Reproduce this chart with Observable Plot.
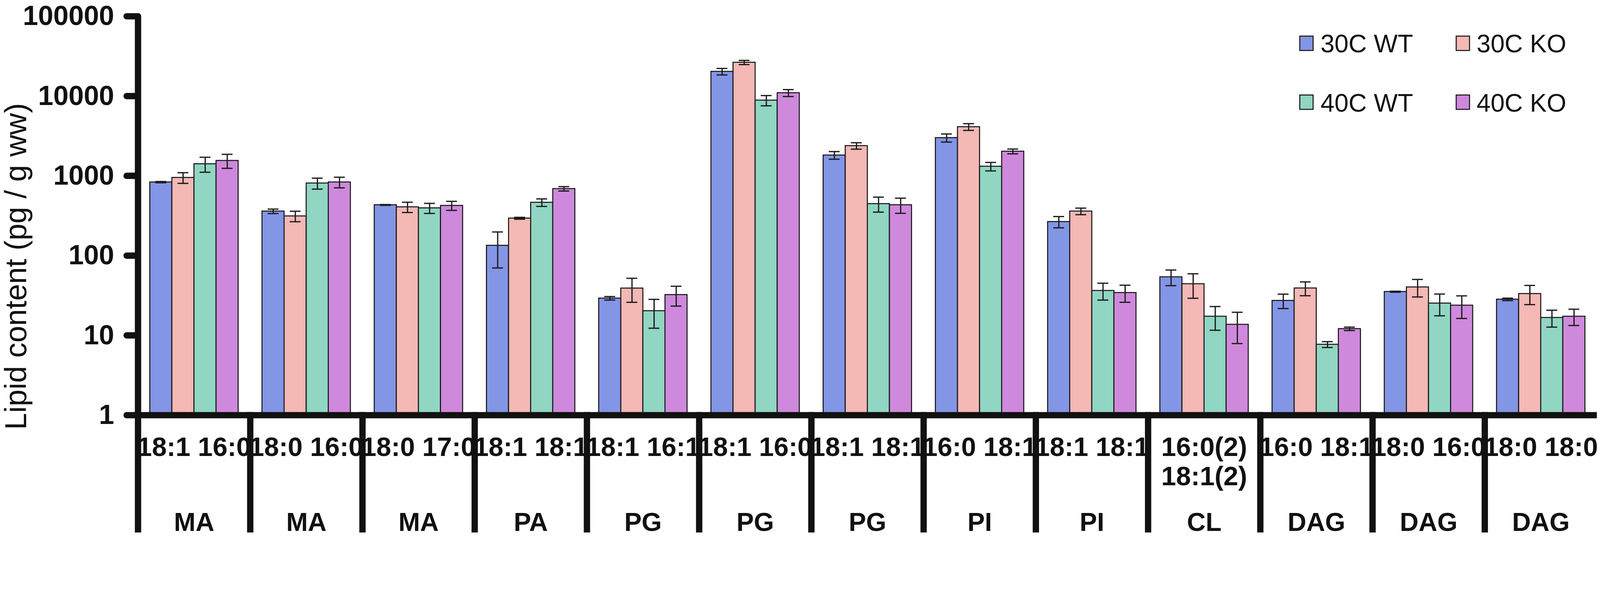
<!DOCTYPE html>
<html>
<head>
<meta charset="utf-8">
<script src="https://cdn.jsdelivr.net/npm/d3@7"></script>
<script src="https://cdn.jsdelivr.net/npm/@observablehq/plot@0.6"></script>
<style>
  html, body { margin: 0; padding: 0; background: #fff; overflow: hidden; }
  #chart svg { display: block; }
</style>
</head>
<body>
<div id="chart"></div>
<script>
// ---- data ----
const groupIds = ["g0","g1","g2","g3","g4","g5","g6","g7","g8","g9","g10","g11","g12"];
const lipidClass = ["MA","MA","MA","PA","PG","PG","PG","PI","PI","CL","DAG","DAG","DAG"];
const chains = ["18:1 16:0","18:0 16:0","18:0 17:0","18:1 18:1","18:1 16:1","18:1 16:0","18:1 18:1","16:0 18:1","18:1 18:1","16:0(2)\n18:1(2)","16:0 18:1","18:0 16:0","18:0 18:0"];
const series = ["30C WT","30C KO","40C WT","40C KO"];
const colors = ["#8395E5","#F4B8B5","#90D6C3","#CF89DC"];

const wt30 = [834, 360, 432, 134, 29.2, 20300, 1815, 3000, 266, 54, 27.3, 35.3, 28.3];
const ko30 = [950, 313, 407, 294, 39, 26400, 2380, 4110, 360, 44.2, 39.1, 40.3, 33.3];
const wt40 = [1410, 809, 395, 464, 20.3, 8850, 446, 1313, 36.4, 17.3, 7.7, 25.3, 16.7];
const ko40 = [1552, 834, 424, 689, 32.3, 10960, 432, 2027, 34.3, 13.7, 12.1, 23.8, 17.3];

const wt30Err = [15, 23, 5, 64, 1.5, 1900, 200, 350, 43, 12, 5.6, 0.5, 1];
const ko30Err = [145, 47, 60, 8, 13, 1600, 220, 400, 34, 15, 7.7, 10, 9];
const wt40Err = [300, 127, 57, 50, 8, 1300, 95, 160, 8.7, 5.7, 0.65, 7.7, 4];
const ko40Err = [310, 127, 55, 44, 9, 1100, 93, 140, 8.3, 5.8, 0.6, 7.5, 4];

const yTicks = [1, 10, 100, 1000, 10000, 100000];
const yTitle = "Lipid content (pg / g ww)";

// ---- tables built from arrays ----
const values = [wt30, ko30, wt40, ko40];
const errors = [wt30Err, ko30Err, wt40Err, ko40Err];
const data = [];
groupIds.forEach((g, i) => series.forEach((s, j) => data.push({
  group: g, series: s, value: values[j][i], err: errors[j][i]
})));
const groups = groupIds.map((g, i) => ({group: g, lipid: lipidClass[i], chains: chains[i]}));

const FONT = "'Liberation Sans', Arial, Helvetica, sans-serif";
const W = 4562, H = 1519;
const mTop = 46, mBottom = 335, mLeft = 393, mRight = 9;
const plotH = H - mTop - mBottom;
const ink = "#111";
const edge = "#1a1a1a";

const svg = Plot.plot({
  width: W, height: H,
  marginTop: mTop, marginBottom: mBottom, marginLeft: mLeft, marginRight: mRight,
  style: {fontFamily: FONT, background: "#fff", color: ink, overflow: "visible"},
  fx: {domain: groupIds, padding: 0, axis: null, label: null},
  x: {domain: series, paddingInner: 0, paddingOuter: 0.52, axis: null},
  y: {type: "log", domain: [1, 100000], axis: null},
  color: {domain: series, range: colors},
  marks: [
    Plot.barY(data, {fx: "group", x: "series", y1: 1, y2: "value", fill: "series", stroke: edge, strokeWidth: 3}),
    Plot.ruleX(data, {fx: "group", x: "series", y1: d => d.value - d.err, y2: d => d.value + d.err, stroke: edge, strokeWidth: 3.5}),
    Plot.tickY(data, {fx: "group", x: "series", y: d => d.value + d.err, insetLeft: 16, insetRight: 16, stroke: edge, strokeWidth: 3.5}),
    Plot.tickY(data, {fx: "group", x: "series", y: d => d.value - d.err, insetLeft: 16, insetRight: 16, stroke: edge, strokeWidth: 3.5}),
    Plot.text(groups, {fx: "group", text: "chains", frameAnchor: "bottom", lineAnchor: "top", dy: 57, lineHeight: 1.1, fontSize: 76, fontWeight: "bold", fill: ink}),
    Plot.text(groups, {fx: "group", text: "lipid", frameAnchor: "bottom", lineAnchor: "top", dy: 278, fontSize: 74, fontWeight: "bold", fill: ink}),
    Plot.ruleY([1], {stroke: ink, strokeWidth: 18}),
    Plot.frame({anchor: "left", insetTop: plotH, insetBottom: -mBottom, stroke: ink, strokeWidth: 18}),
    Plot.frame({anchor: "left", facetAnchor: "left", stroke: ink, strokeWidth: 18, strokeLinecap: "round"}),
    Plot.axisY({ticks: yTicks, tickFormat: d => String(d), tickSize: 32, tickPadding: 36, stroke: ink, strokeWidth: 18, strokeLinecap: "round", fontSize: 78, fontWeight: "bold", fill: ink, label: null})
  ]
});

const s = d3.select(svg);

// y-axis title
s.append("text")
  .attr("transform", "translate(75,760) rotate(-90)")
  .attr("text-anchor", "middle")
  .attr("font-family", FONT)
  .attr("font-size", 86)
  .attr("fill", ink)
  .text(yTitle);

// legend
const legendPos = [
  {sx: 3706, sy: 103, tx: 3765, ty: 149},
  {sx: 4152, sy: 103, tx: 4210, ty: 149},
  {sx: 3706, sy: 271, tx: 3765, ty: 318},
  {sx: 4152, sy: 271, tx: 4210, ty: 318}
];
const lg = s.append("g").attr("text-anchor", "start");
series.forEach((name, i) => {
  const p = legendPos[i];
  lg.append("rect").attr("x", p.sx).attr("y", p.sy).attr("width", 38).attr("height", 41)
    .attr("fill", colors[i]).attr("stroke", edge).attr("stroke-width", 3);
  lg.append("text").attr("x", p.tx).attr("y", p.ty)
    .attr("text-anchor", "start")
    .attr("font-family", FONT).attr("font-size", 72).attr("fill", ink).text(name);
});

document.getElementById("chart").appendChild(svg);
</script>
</body>
</html>
